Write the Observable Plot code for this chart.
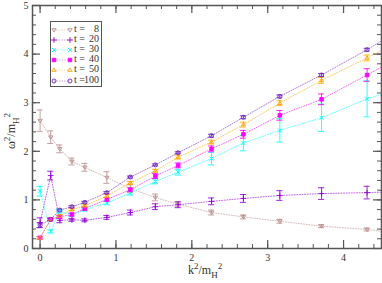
<!DOCTYPE html>
<html><head><meta charset="utf-8">
<script src="https://cdn.jsdelivr.net/npm/d3@7"></script>
<script src="https://cdn.jsdelivr.net/npm/@observablehq/plot@0.6"></script>
<style>
body{margin:0;background:#fff}
#wrap{position:relative;width:382px;height:283px;font-family:"Liberation Serif","DejaVu Serif",serif;color:#333}
#wrap svg.plot{position:absolute;left:0;top:0}
.lab{position:absolute;font-size:12px;white-space:nowrap;line-height:1}
.lab sup{font-size:9px;vertical-align:5px}
.lab sub{font-size:9px;vertical-align:-4px}
#legend{position:absolute;left:50px;top:21px;width:50px;height:64px;border:1px solid #555;background:#fff;font-size:10px}
#legend .row{position:absolute;left:0;height:10px;width:50px}
#legend .row svg{position:absolute;left:0;top:0}
#legend .t{position:absolute;left:23px;top:-1px;line-height:10px}
#legend .n{position:absolute;right:2px;top:-1px;line-height:10px;text-align:right}
</style></head><body><div id="wrap"></div>
<script>
// k^2 / m_H^2 values (last one lies beyond the visible x range)
const k2 = [0, 0.14, 0.26, 0.42, 0.59, 0.88, 1.19, 1.52, 1.82, 2.26, 2.68, 3.16, 3.71, 4.31, 4.90];

const seriesNames = ["t =   8", "t =  20", "t =  30", "t =  40", "t =  50", "t =100"];
const seriesLabelNum = ["8", "20", "30", "40", "50", "100"];
const seriesColors = ["#bc8f8f", "#9400d3", "#00ffff", "#ff00ff", "#ffa500", "#7221bc"];

const t8    = [2.63, 2.29, 2.05, 1.79, 1.67, 1.46, 1.23, 1.05, 0.91, 0.74, 0.65, 0.56, 0.46, 0.39, 0.30];
const t8e   = [0.22, 0.13, 0.08, 0.07, 0.08, 0.12, 0.08, 0.07, 0.05, 0.05, 0.04, 0.04, 0.03, 0.03, 0.03];
const t20   = [0.53, 1.50, 0.58, 0.59, 0.58, 0.64, 0.74, 0.86, 0.90, 0.97, 1.03, 1.09, 1.13, 1.15, 1.18];
const t20e  = [0.10, 0.09, 0.05, 0.03, 0.03, 0.04, 0.05, 0.06, 0.06, 0.07, 0.08, 0.10, 0.12, 0.13, 0.13];
const t30   = [1.18, 0.35, 0.77, 0.69, 0.80, 0.94, 1.14, 1.38, 1.57, 1.85, 2.17, 2.43, 2.69, 3.08, 3.36];
const t30e  = [0.10, 0.03, 0.04, 0.03, 0.03, 0.04, 0.04, 0.05, 0.06, 0.13, 0.16, 0.24, 0.28, 0.37, 0.40];
const t40   = [0.22, 0.60, 0.65, 0.70, 0.82, 1.01, 1.21, 1.49, 1.71, 2.05, 2.35, 2.74, 3.07, 3.57, 4.07];
const t40e  = [0.03, 0.03, 0.03, 0.03, 0.03, 0.04, 0.04, 0.05, 0.05, 0.06, 0.08, 0.10, 0.11, 0.13, 0.14];
const t50   = [0.22, 0.60, 0.67, 0.80, 0.88, 1.08, 1.35, 1.60, 1.88, 2.19, 2.55, 2.99, 3.46, 3.92, 4.39];
const t50e  = [0.02, 0.02, 0.02, 0.02, 0.02, 0.03, 0.03, 0.03, 0.04, 0.04, 0.05, 0.05, 0.06, 0.06, 0.06];
const t100  = [0.48, 0.60, 0.79, 0.86, 0.95, 1.15, 1.47, 1.72, 1.97, 2.32, 2.70, 3.13, 3.57, 4.09, 4.65];
const t100e = [0.05, 0.02, 0.02, 0.02, 0.02, 0.02, 0.02, 0.02, 0.02, 0.03, 0.03, 0.03, 0.03, 0.03, 0.03];

const xTicks = [0, 1, 2, 3, 4];
const yTicks = [0, 1, 2, 3, 4, 5];
const xMinor = d3.range(0, 4.5, 0.2);
const yMinor = d3.range(0, 5.01, 0.2);

const values = [t8, t20, t30, t40, t50, t100];
const errors = [t8e, t20e, t30e, t40e, t50e, t100e];

const triDown = {draw(ctx, size) { const r = Math.sqrt(size) * 0.62; ctx.moveTo(-r, -r * 0.6); ctx.lineTo(r, -r * 0.6); ctx.lineTo(0, r * 0.95); ctx.closePath(); }};
const triUp = {draw(ctx, size) { const r = Math.sqrt(size) * 0.62; ctx.moveTo(-r, r * 0.6); ctx.lineTo(r, r * 0.6); ctx.lineTo(0, -r * 0.95); ctx.closePath(); }};
const symbols = [
  {symbol: triDown, fill: "none"},
  {symbol: "plus", fill: "none"},
  {symbol: "times", fill: "none"},
  {symbol: "square", fill: "color"},
  {symbol: triUp, fill: "none"},
  {symbol: "circle", fill: "none"}
];

const rows = [];
values.forEach((vals, s) => vals.forEach((v, i) => rows.push({series: seriesNames[s], s, color: seriesColors[s], x: k2[i], y: v, e: errors[s][i]})));

const W = 382, H = 283, mT = 5, mB = 35, mL = 32, mR = 1;
const plotH = H - mT - mB, plotW = W - mL - mR;
const axisColor = "#555";
const dotR = 2.0;

const marks = [];
// dotted connecting lines
marks.push(Plot.line(rows, {x: "x", y: "y", z: "series", stroke: "color", strokeWidth: 1, strokeDasharray: "1,1.6", strokeOpacity: 0.6, clip: true}));
// error bars
const capHalf = 0.04;
marks.push(Plot.ruleX(rows, {x: "x", y1: d => d.y - d.e, y2: d => d.y + d.e, stroke: "color", strokeWidth: 1, strokeOpacity: 0.85, clip: true}));
marks.push(Plot.ruleY(rows, {y: d => d.y + d.e, x1: d => d.x - capHalf, x2: d => d.x + capHalf, stroke: "color", strokeWidth: 1, strokeOpacity: 0.85, clip: true}));
marks.push(Plot.ruleY(rows, {y: d => d.y - d.e, x1: d => d.x - capHalf, x2: d => d.x + capHalf, stroke: "color", strokeWidth: 1, strokeOpacity: 0.85, clip: true}));
// markers
symbols.forEach((sym, s) => {
  const data = rows.filter(d => d.s === s);
  marks.push(Plot.dot(data, {x: "x", y: "y", symbol: () => sym.symbol, r: dotR, stroke: "color", fill: sym.fill === "none" ? "none" : "color", strokeWidth: 0.9, clip: true}));
});
// inward ticks
marks.push(Plot.tickX(xMinor, {x: d => d, insetTop: plotH - 4, stroke: axisColor}));
marks.push(Plot.tickX(xMinor, {x: d => d, insetBottom: plotH - 4, stroke: axisColor}));
marks.push(Plot.tickX(xTicks, {x: d => d, insetTop: plotH - 8, stroke: axisColor, strokeWidth: 1.2}));
marks.push(Plot.tickX(xTicks, {x: d => d, insetBottom: plotH - 8, stroke: axisColor, strokeWidth: 1.2}));
marks.push(Plot.tickY(yMinor, {y: d => d, insetRight: plotW - 4, stroke: axisColor}));
marks.push(Plot.tickY(yMinor, {y: d => d, insetLeft: plotW - 4, stroke: axisColor}));
marks.push(Plot.tickY(yTicks, {y: d => d, insetRight: plotW - 8, stroke: axisColor, strokeWidth: 1.2}));
marks.push(Plot.tickY(yTicks, {y: d => d, insetLeft: plotW - 8, stroke: axisColor, strokeWidth: 1.2}));
marks.push(Plot.frame({stroke: axisColor, strokeWidth: 1.5}));
marks.push(Plot.axisX(xTicks, {tickSize: 0, tickPadding: 5, fontSize: 10, label: null, fill: "#333", tickFormat: d => String(d)}));
marks.push(Plot.axisY(yTicks, {tickSize: 0, tickPadding: 4, fontSize: 10, label: null, fill: "#333", tickFormat: d => String(d)}));

const chart = Plot.plot({
  width: W, height: H,
  marginTop: mT, marginBottom: mB, marginLeft: mL, marginRight: mR,
  x: {domain: [-0.1, 4.5]},
  y: {domain: [0, 5]},
  color: {type: "identity"},
  style: {fontFamily: "'Liberation Serif', serif", background: "#fff"},
  marks
});
chart.classList.add("plot");
const wrap = document.getElementById("wrap");
wrap.appendChild(chart);

// axis labels
const xl = document.createElement("div");
xl.className = "lab";
xl.innerHTML = "k<sup>2</sup>/m<sub>H</sub><sup>2</sup>";
xl.style.left = "188px"; xl.style.top = "262px";
wrap.appendChild(xl);
const yl = document.createElement("div");
yl.className = "lab";
yl.innerHTML = "&omega;<sup>2</sup>/m<sub>H</sub><sup>2</sup>";
yl.style.left = "-6px"; yl.style.top = "122px";
yl.style.transform = "rotate(-90deg)";
wrap.appendChild(yl);

// legend
const lg = document.createElement("div");
lg.id = "legend";
wrap.appendChild(lg);
seriesNames.forEach((name, s) => {
  const row = document.createElement("div");
  row.className = "row";
  row.style.top = (3 + s * 10.1) + "px";
  const svg = d3.create("svg").attr("width", 22).attr("height", 10);
  svg.append("line").attr("x1", 3).attr("x2", 19).attr("y1", 5).attr("y2", 5)
    .attr("stroke", seriesColors[s]).attr("stroke-dasharray", "1,1.6").attr("stroke-opacity", 0.6);
  const sym = symbols[s];
  const symObj = typeof sym.symbol === "string" ? {plus: d3.symbolPlus, times: d3.symbolTimes, square: d3.symbolSquare, circle: d3.symbolCircle}[sym.symbol] : sym.symbol;
  const path = d3.symbol(symObj, Math.PI * dotR * dotR)();
  [3, 19].forEach(cx => svg.append("path").attr("d", path).attr("transform", `translate(${cx},5)`)
    .attr("stroke", seriesColors[s]).attr("stroke-width", 0.9).attr("fill", sym.fill === "none" ? "none" : seriesColors[s]));
  row.appendChild(svg.node());
  const t = document.createElement("span"); t.className = "t"; t.textContent = "t =";
  const n = document.createElement("span"); n.className = "n"; n.textContent = seriesLabelNum[s];
  row.appendChild(t); row.appendChild(n);
  lg.appendChild(row);
});
</script></body></html>
